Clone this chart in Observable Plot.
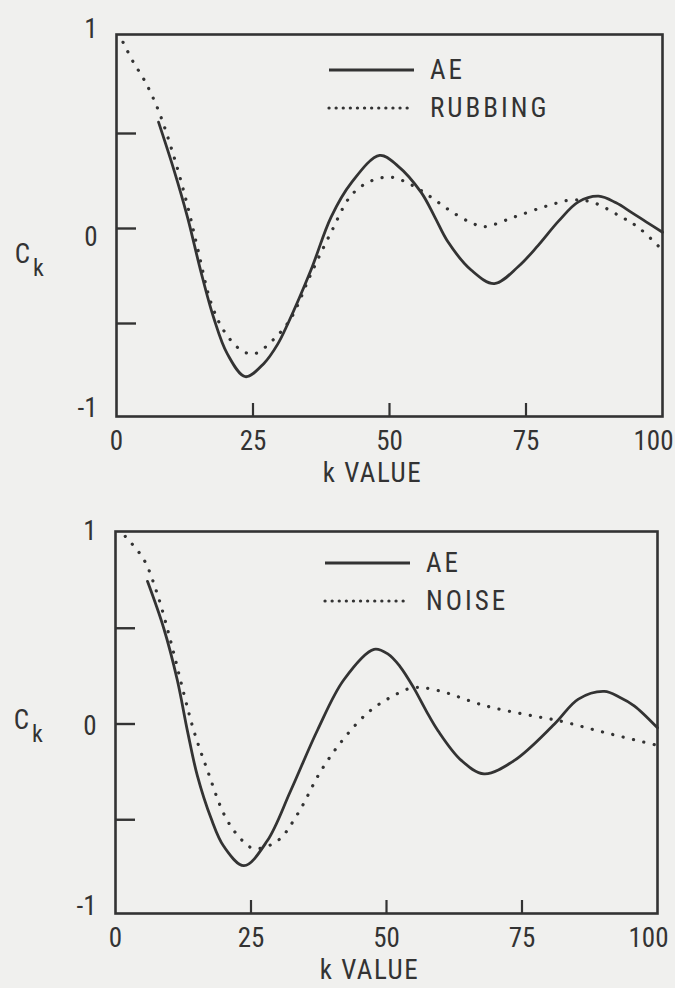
<!DOCTYPE html>
<html><head><meta charset="utf-8">
<script src="https://cdn.jsdelivr.net/npm/d3@7"></script>
<script src="https://cdn.jsdelivr.net/npm/@observablehq/plot@0.6"></script>
<style>
body{margin:0;background:#f0f0ee;}
#wrap{position:relative;width:675px;height:988px;font-family:'Roboto Condensed','Liberation Sans Narrow','DejaVu Sans Condensed',sans-serif;color:#333;}
#wrap svg{display:block;overflow:visible}
.leg{position:absolute;display:flex;align-items:center;height:30px;font-size:27px;letter-spacing:3px;line-height:1;color:#333}
.leg svg{margin-right:15px}
</style></head><body><div id="wrap"></div>
<script>
// ---- data ----
const kTicks = [0, 25, 50, 75];
const kLastTick = [100];
const cLabelTicks = [-1, 0, 1];
const cMinorTicks = [-0.5, 0, 0.5];
const kInnerTicks = [25, 50, 75];
const seriesTop = ["AE", "RUBBING"];
const seriesBottom = ["AE", "NOISE"];
const xLabel = "k VALUE";
const yLabel = "C";
const ySub = "k";

// top panel: AE vs RUBBING
const aeTopK = [7.7, 10.5, 13, 15.4, 17.8, 20.3, 23.6, 27, 29.5, 31.4, 35.6, 39.3, 43, 48.2, 51.5, 55.8, 58.3, 60.7, 65, 69.2, 73.6, 77.2, 81, 84.6, 88.3, 91.5, 94.3, 97, 100];
const aeTopC = [0.56, 0.31, 0.06, -0.22, -0.47, -0.66, -0.78, -0.71, -0.61, -0.50, -0.22, 0.06, 0.24, 0.385, 0.33, 0.19, 0.06, -0.07, -0.22, -0.29, -0.20, -0.09, 0.04, 0.14, 0.17, 0.135, 0.085, 0.035, -0.02];
const rubK = [1.2, 3, 5.3, 7.7, 10.5, 13, 14.9, 17.3, 19.7, 22.8, 25.2, 28.9, 32, 35.6, 39.3, 43, 46.6, 50.3, 54, 57.6, 61.3, 65, 67.4, 72.8, 79, 83.3, 87, 91.9, 95.6, 99.5];
const rubC = [0.98, 0.88, 0.77, 0.62, 0.38, 0.12, -0.11, -0.39, -0.54, -0.64, -0.66, -0.58, -0.47, -0.24, -0.02, 0.175, 0.25, 0.27, 0.23, 0.165, 0.09, 0.03, 0.01, 0.06, 0.12, 0.15, 0.14, 0.07, 0.005, -0.10];

// bottom panel: AE vs NOISE
const aeBotK = [5.9, 8.9, 11.4, 13.3, 15.1, 17.6, 20, 23.7, 28, 32.3, 37.3, 42.1, 47.7, 50.3, 52.5, 55, 57.3, 59.5, 63.8, 68, 73.6, 81, 85.4, 90.2, 93, 95.7, 100];
const aeBotC = [0.745, 0.50, 0.23, -0.04, -0.27, -0.49, -0.64, -0.74, -0.61, -0.35, -0.03, 0.23, 0.39, 0.365, 0.30, 0.19, 0.07, -0.035, -0.19, -0.26, -0.19, 0.0, 0.13, 0.17, 0.14, 0.095, -0.02];
const noiseK = [1.8, 5.2, 7.7, 10.2, 12.6, 14.5, 17, 20, 22.5, 25.5, 29.9, 33.6, 37.9, 42.1, 46.6, 50.8, 55, 59.5, 68, 76.7, 81.7, 90.2, 99.8];
const noiseC = [0.98, 0.86, 0.68, 0.43, 0.16, -0.04, -0.245, -0.47, -0.58, -0.65, -0.61, -0.47, -0.245, -0.077, 0.06, 0.14, 0.19, 0.175, 0.097, 0.044, 0.018, -0.044, -0.11];

// ---- drawing ----
const INK = "#333";
const FONT = "'Roboto Condensed','Liberation Sans Narrow','DejaVu Sans Condensed',sans-serif";
const DOTS = "0.1 10.5";
const LEG_DOTS = "0.1 7";
const toRows = (ks, cs) => ks.map((k, i) => ({k, c: cs[i]}));
const fmt = d => d < 0 ? "-" + Math.abs(d) : String(d);

function panel(o) {
  const yLabels = cLabelTicks.map((t, i) =>
    Plot.axisY({ticks: [t], tickSize: 0, tickPadding: 19, tickFormat: fmt, label: null, fill: INK, dy: o.labDy[i]}));
  const svg = Plot.plot({
    width: 675, height: o.height,
    marginTop: o.mt, marginBottom: o.mb, marginLeft: o.ml, marginRight: o.mr,
    style: {background: "transparent", fontFamily: FONT, fontSize: "27px", color: INK, overflow: "visible"},
    x: {domain: [0, 100], axis: null},
    y: {domain: [-1, 1], range: o.yRange, axis: null},
    marks: [
      Plot.frame({stroke: INK, strokeWidth: 2.6}),
      Plot.axisY({ticks: cMinorTicks, tickSize: -20, fill: "none", stroke: INK, strokeWidth: 2.4, label: null}),
      Plot.axisX({ticks: kInnerTicks, tickSize: -13, fill: "none", stroke: INK, strokeWidth: 2.2, label: null}),
      ...yLabels,
      Plot.axisX({ticks: kTicks, tickSize: 0, tickPadding: 14, tickFormat: fmt, label: null, fill: INK}),
      Plot.axisX({ticks: kLastTick, tickSize: 0, tickPadding: 14, tickFormat: fmt, label: null, fill: INK, dx: -9}),
      Plot.text([xLabel], {text: d => d, frameAnchor: "bottom", dy: 57, dx: -17, lineAnchor: "middle", fill: INK}),
      Plot.text([yLabel], {text: d => d, frameAnchor: "left", dx: -94, dy: o.cDy, textAnchor: "middle", lineAnchor: "middle", fill: INK}),
      Plot.text([ySub], {text: d => d, frameAnchor: "left", dx: -78, dy: o.cDy + 14, textAnchor: "middle", lineAnchor: "middle", fontSize: 24, fill: INK}),
      Plot.line(toRows(o.oK, o.oC), {x: "k", y: "c", curve: "catmull-rom", stroke: "#333", strokeWidth: 3.2, strokeDasharray: DOTS, strokeLinecap: "round"}),
      Plot.line(toRows(o.aK, o.aC), {x: "k", y: "c", curve: "catmull-rom", stroke: INK, strokeWidth: 2.8})
    ]
  });
  svg.querySelectorAll("text").forEach(t => { if (t.textContent === xLabel) t.setAttribute("letter-spacing", "1.5"); });
  return svg;
}

const wrap = document.getElementById("wrap");
const top1 = panel({height: 490, mt: 34, mb: 74, ml: 116, mr: 13, yRange: [418, 38], labDy: [-10, 9, -9], cDy: 29, aK: aeTopK, aC: aeTopC, oK: rubK, oC: rubC});
const bot1 = panel({height: 498, mt: 41, mb: 75, ml: 115, mr: 18, yRange: [425, 42], labDy: [-9, 2, -1], cDy: -2, aK: aeBotK, aC: aeBotC, oK: noiseK, oC: noiseC});
wrap.appendChild(top1);
wrap.appendChild(bot1);

function legend(names, left, tops) {
  names.forEach((name, i) => {
    const d = document.createElement("div");
    d.className = "leg";
    d.style.left = left + "px";
    d.style.top = (tops[i] - 15) + "px";
    const dash = i === 0 ? "" : `stroke-dasharray='${LEG_DOTS}' stroke-linecap='round'`;
    d.innerHTML = `<svg width="88" height="6"><line x1="2" y1="3" x2="87" y2="3" stroke="${INK}" stroke-width="${i === 0 ? 2.8 : 3.2}" ${dash}/></svg><span>${name}</span>`;
    wrap.appendChild(d);
  });
}
legend(seriesTop, 327, [70, 108]);
legend(seriesBottom, 323, [563, 601]);
</script></body></html>
